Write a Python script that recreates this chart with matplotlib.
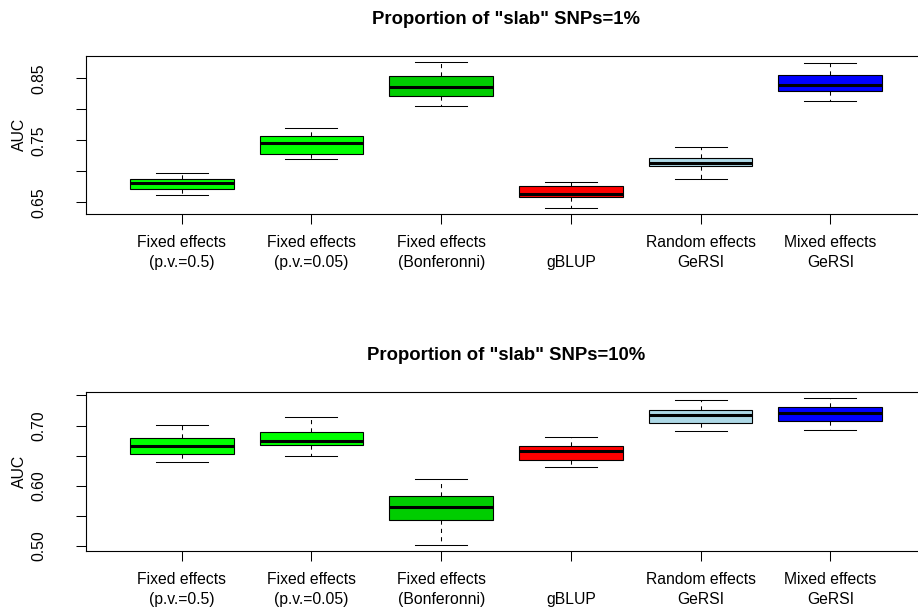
import matplotlib
matplotlib.use('Agg')
import matplotlib.pyplot as plt

plt.rcParams['font.family'] = ['Liberation Sans', 'DejaVu Sans']

# nombres de los metodos (etiquetas eje x)
metodos = ['Fixed effects\n(p.v.=0.5)', 'Fixed effects\n(p.v.=0.05)', 'Fixed effects\n(Bonferonni)',
           '\ngBLUP', 'Random effects\nGeRSI', 'Mixed effects\nGeRSI']
colores = ['#00FF00', '#00FF00', '#00CD00', '#FF0000', '#ADD8E6', '#0000FF']

# slab 1%  (bigote inf, Q1, mediana, Q3, bigote sup)
s1_lo  = [0.6625, 0.7196, 0.8060, 0.6405, 0.6870, 0.8140]
s1_q1  = [0.6715, 0.7276, 0.8212, 0.6577, 0.7079, 0.8302]
s1_med = [0.6817, 0.7463, 0.8356, 0.6635, 0.7132, 0.8393]
s1_q3  = [0.6880, 0.7575, 0.8540, 0.6758, 0.7218, 0.8553]
s1_hi  = [0.6980, 0.7690, 0.8770, 0.6833, 0.7388, 0.8740]

# slab 10%
s10_lo  = [0.6402, 0.6502, 0.5017, 0.6312, 0.6910, 0.6934]
s10_q1  = [0.6523, 0.6673, 0.5427, 0.6424, 0.7038, 0.7076]
s10_med = [0.6661, 0.6745, 0.5648, 0.6585, 0.7176, 0.7216]
s10_q3  = [0.6800, 0.6894, 0.5830, 0.6668, 0.7266, 0.7304]
s10_hi  = [0.7010, 0.7138, 0.6113, 0.6810, 0.7420, 0.7465]

paneles = [
    ('Proportion of "slab" SNPs=1%', s1_lo, s1_q1, s1_med, s1_q3, s1_hi,
     [0.65, 0.70, 0.75, 0.80, 0.85], ['0.65', '', '0.75', '', '0.85']),
    ('Proportion of "slab" SNPs=10%', s10_lo, s10_q1, s10_med, s10_q3, s10_hi,
     [0.50, 0.55, 0.60, 0.65, 0.70, 0.75], ['0.50', '', '0.60', '', '0.70', '']),
]

W, H = 918, 614
fig = plt.figure(figsize=(W / 100, H / 100), dpi=100)
x0, x1 = 85.7, 926.3
cajas_y = [(55.7, 214.0), (391.7, 551.0)]   # top/bottom de cada panel en px

for (titulo, lo, q1, med, q3, hi, yt, ytl), (ytop, ybot) in zip(paneles, cajas_y):
    ax = fig.add_axes([x0 / W, 1 - ybot / H, (x1 - x0) / W, (ybot - ytop) / H])
    stats = [dict(whislo=a, q1=b, med=c, q3=d, whishi=e, fliers=[])
             for a, b, c, d, e in zip(lo, q1, med, q3, hi)]
    bp = ax.bxp(stats, positions=range(1, 7), widths=0.8, capwidths=0.4, patch_artist=True,
                boxprops=dict(edgecolor='black', linewidth=0.8),
                medianprops=dict(color='black', linewidth=2.2, solid_capstyle='butt'),
                whiskerprops=dict(color='black', linewidth=0.75, linestyle=(0, (4, 4))),
                capprops=dict(color='black', linewidth=0.75))
    for caja, col in zip(bp['boxes'], colores):
        caja.set_facecolor(col)
    # limites estilo R (4% extra)
    rmin, rmax = min(lo), max(hi)
    d = (rmax - rmin) * 0.04
    ax.set_ylim(rmin - d, rmax + d)
    ax.set_xlim(0.26, 6.74)
    ax.set_xticks(range(1, 7))
    ax.set_xticklabels(metodos, fontsize=11.3, linespacing=1.4)
    ax.set_yticks(yt)
    ax.set_yticklabels(ytl, fontsize=11.3, rotation=90, va='center')
    ax.tick_params(axis='x', length=7, width=0.75, pad=8)
    ax.tick_params(axis='y', length=7, width=0.75, pad=21)
    for s in ax.spines.values():
        s.set_linewidth(0.8)
    ax.set_ylabel('AUC', fontsize=11.3)
    ax.yaxis.set_label_coords(-0.07, 0.5)
    ax.set_title(titulo, fontsize=13.3, fontweight='bold', pad=23)

fig.savefig('out.png', dpi=100)
